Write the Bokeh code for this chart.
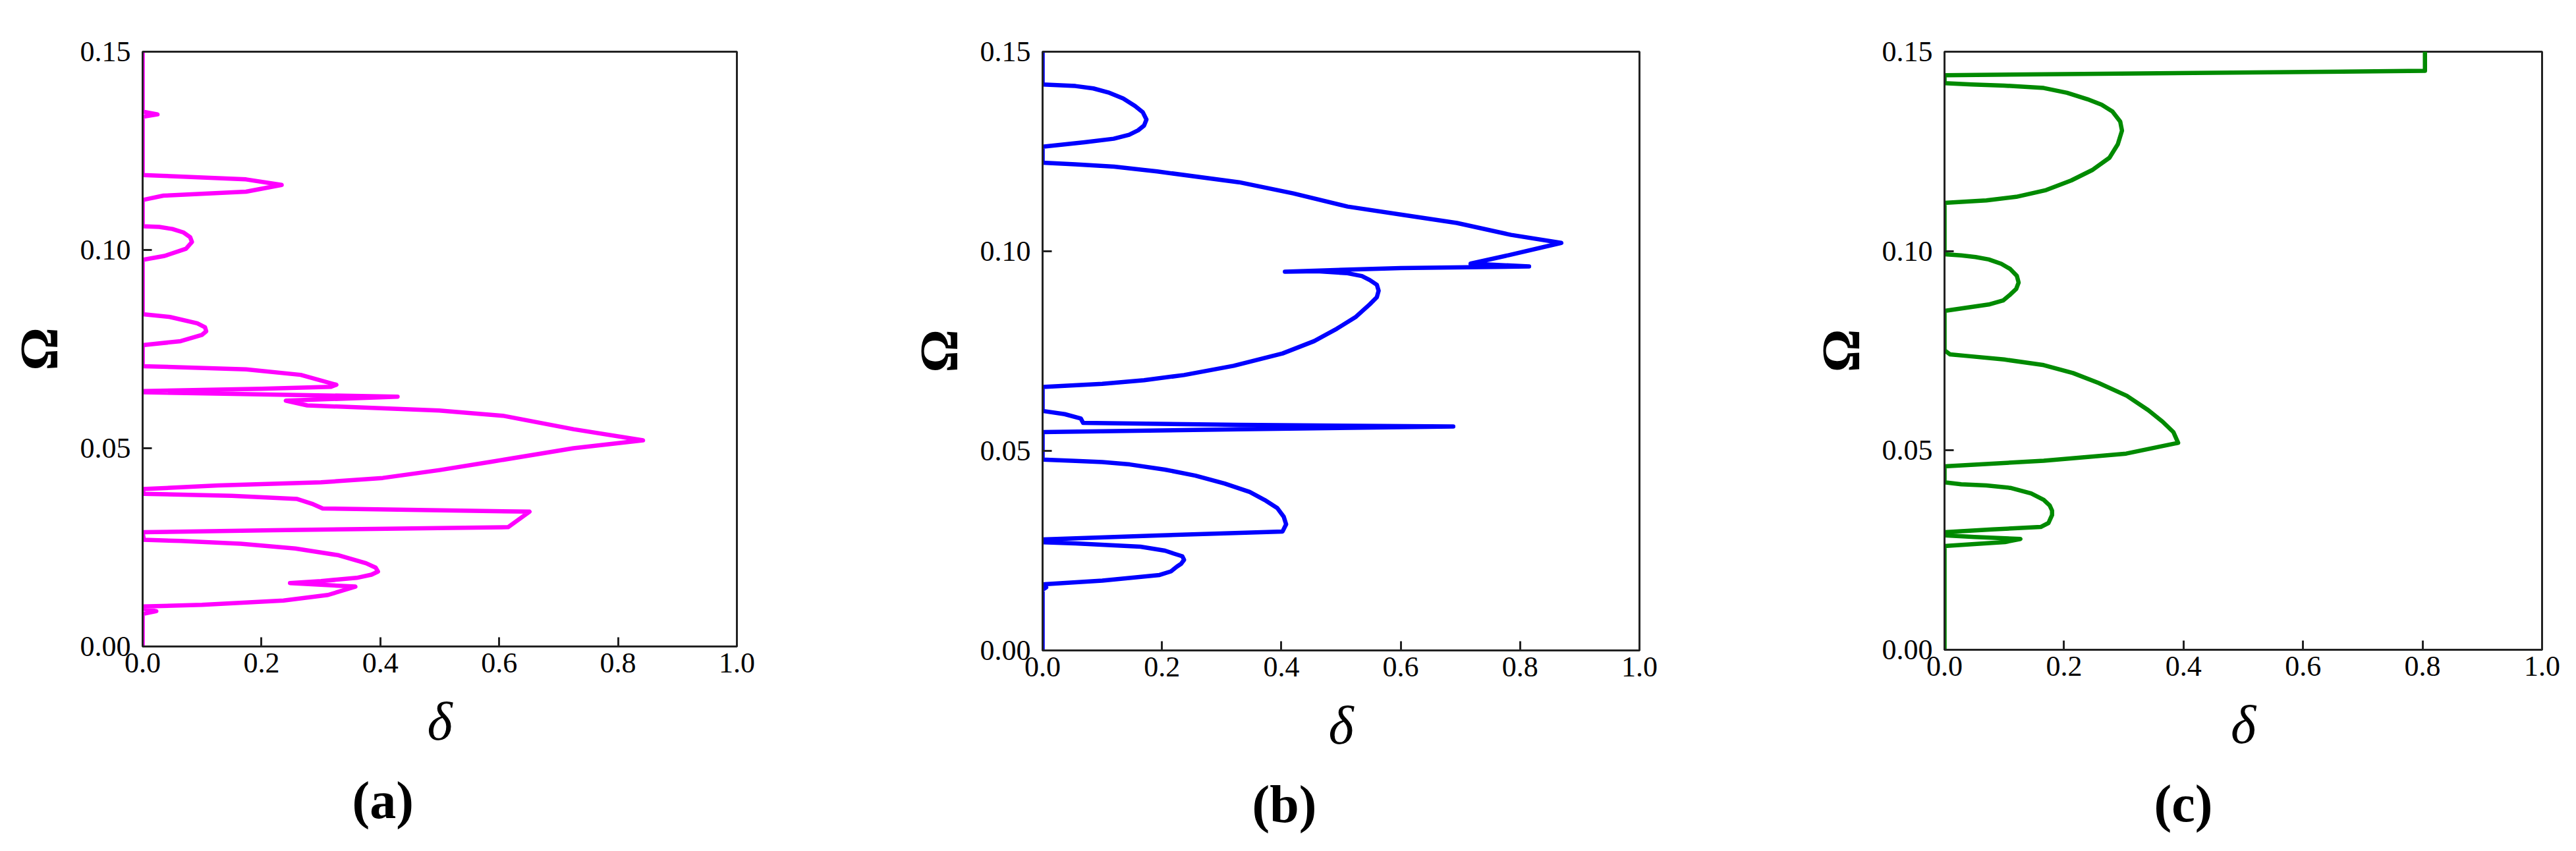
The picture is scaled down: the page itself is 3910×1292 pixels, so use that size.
from bokeh.plotting import figure
from bokeh.layouts import row
from bokeh.models import FixedTicker, PrintfTickFormatter, Title, Range1d
from bokeh.embed import file_html
from bokeh.resources import INLINE

# ---------------- data ----------------
delta_a = [0, 0, 0.023, 0.002, 0, 0.10, 0.237, 0.312, 0.358, 0.248, 0.30, 0.36, 0.385, 0.396,
           0.392, 0.376, 0.330, 0.257, 0.165, 0.064, 0.002, 0, 0.22, 0.615, 0.651, 0.303, 0.285,
           0.260, 0.15, 0.002, 0, 0.127, 0.30, 0.404, 0.50, 0.587, 0.725, 0.842, 0.725, 0.606,
           0.499, 0.277, 0.241, 0.429, 0.0, 0.0, 0.20, 0.317, 0.326, 0.266, 0.174, 0.0, 0, 0.064,
           0.10, 0.107, 0.105, 0.092, 0.046, 0, 0, 0.037, 0.073, 0.083, 0.080, 0.069, 0.05, 0.028,
           0, 0, 0.035, 0.174, 0.234, 0.174, 0.035, 0, 0, 0.025, 0, 0]
omega_a = [0, 0.0082, 0.0089, 0.0095, 0.0101, 0.0105, 0.0116, 0.0130, 0.0151, 0.0160, 0.0165,
           0.0173, 0.0181, 0.0189, 0.0199, 0.0210, 0.0230, 0.0247, 0.0259, 0.0266, 0.0269, 0.0288,
           0.0293, 0.0301, 0.0340, 0.0348, 0.0360, 0.0372, 0.0380, 0.0385, 0.0397, 0.0406, 0.0414,
           0.0425, 0.0445, 0.0466, 0.0500, 0.0520, 0.0548, 0.0582, 0.0595, 0.0608, 0.0620, 0.0630,
           0.0641, 0.0644, 0.0650, 0.0655, 0.0660, 0.0685, 0.0699, 0.0707, 0.0760, 0.0770, 0.0786,
           0.0795, 0.0805, 0.0815, 0.0831, 0.0838, 0.0975, 0.0985, 0.1003, 0.1020, 0.1032, 0.1044,
           0.1053, 0.1058, 0.1060, 0.1126, 0.1137, 0.1147, 0.1164, 0.1178, 0.1187, 0.1189, 0.1336,
           0.1342, 0.1349, 0.15]

delta_b = [0, 0, 0.006, 0, 0.003, 0.10, 0.196, 0.215, 0.225, 0.232, 0.237, 0.234, 0.219, 0.205,
           0.164, 0.055, 0, 0, 0.192, 0.402, 0.408, 0.404, 0.393, 0.372, 0.347, 0.305, 0.256, 0.205,
           0.146, 0.10, 0.055, 0, 0, 0.329, 0.688, 0.329, 0.068, 0.064, 0.037, 0, 0, 0.10, 0.17,
           0.237, 0.32, 0.402, 0.455, 0.493, 0.525, 0.548, 0.56, 0.563, 0.56, 0.548, 0.535, 0.511,
           0.46, 0.406, 0.60, 0.815, 0.717, 0.78, 0.869, 0.785, 0.694, 0.60, 0.511, 0.42, 0.329,
           0.192, 0.12, 0.055, 0, 0, 0.07, 0.119, 0.145, 0.160, 0.170, 0.174, 0.168, 0.155, 0.135,
           0.110, 0.085, 0.055, 0, 0]
omega_b = [0, 0.0152, 0.0158, 0.0164, 0.0166, 0.0175, 0.0189, 0.0198, 0.0210, 0.0217, 0.0227,
           0.0236, 0.0243, 0.0250, 0.0260, 0.0268, 0.0271, 0.0278, 0.0288, 0.0298, 0.0316, 0.0335,
           0.0357, 0.0377, 0.0397, 0.0418, 0.0438, 0.0453, 0.0466, 0.0472, 0.0475, 0.0478, 0.0547,
           0.0554, 0.0561, 0.0565, 0.0570, 0.0581, 0.0592, 0.0600, 0.0660, 0.0668, 0.0677, 0.0690,
           0.0713, 0.0744, 0.0775, 0.0806, 0.0836, 0.0867, 0.0885, 0.0901, 0.0916, 0.0928, 0.0938,
           0.0945, 0.0950, 0.0949, 0.0958, 0.0962, 0.0969, 0.0990, 0.1021, 0.1041, 0.1071, 0.1092,
           0.1112, 0.1145, 0.1173, 0.1200, 0.1212, 0.1218, 0.1222, 0.1262, 0.1273, 0.1282, 0.1292,
           0.1303, 0.1315, 0.1330, 0.1348, 0.1364, 0.1383, 0.1398, 0.1408, 0.1414, 0.1418, 0.15]

delta_c = [0, 0, 0.05, 0.101, 0.127, 0.05, 0, 0, 0.08, 0.161, 0.174, 0.177, 0.180, 0.180, 0.176,
           0.166, 0.145, 0.11, 0.07, 0.028, 0, 0, 0.166, 0.304, 0.391, 0.383, 0.365, 0.341, 0.305,
           0.258, 0.215, 0.166, 0.10, 0.037, 0.009, 0, 0, 0.074, 0.098, 0.110, 0.120, 0.124, 0.121,
           0.110, 0.095, 0.074, 0.052, 0.028, 0, 0, 0.07, 0.12, 0.17, 0.212, 0.247, 0.276, 0.29,
           0.297, 0.294, 0.281, 0.263, 0.239, 0.205, 0.166, 0.10, 0.046, 0, 0, 0.804, 0.804]
omega_c = [0, 0.0260, 0.0265, 0.0270, 0.0278, 0.0283, 0.0287, 0.0295, 0.0302, 0.0308, 0.0318,
           0.0328, 0.0338, 0.0349, 0.0362, 0.0376, 0.0392, 0.0406, 0.0412, 0.0415, 0.0420, 0.0460,
           0.0474, 0.0492, 0.0519, 0.0546, 0.0572, 0.0601, 0.0637, 0.0669, 0.0694, 0.0714, 0.0728,
           0.0737, 0.0741, 0.0751, 0.0850, 0.0866, 0.0876, 0.0891, 0.0905, 0.0921, 0.0938, 0.0955,
           0.0968, 0.0979, 0.0985, 0.0989, 0.0992, 0.1121, 0.1127, 0.1136, 0.1153, 0.1177, 0.1203,
           0.1234, 0.1268, 0.1302, 0.1325, 0.1350, 0.1367, 0.1381, 0.1397, 0.1409, 0.1415, 0.1418,
           0.1421, 0.1441, 0.1452, 0.15]

x_ticks = [0.0, 0.2, 0.4, 0.6, 0.8, 1.0]
y_ticks = [0.00, 0.05, 0.10, 0.15]
panel_tags = ["(a)", "(b)", "(c)"]
line_colors = ["#FF00FF", "#0000FF", "#008A00"]

FONT = "Liberation Serif"
FRAME_COL = "#222222"


def make_panel(dx, oy, color, tag, fw, fh, left_border, right_border):
    p = figure(frame_width=fw, frame_height=fh,
               x_range=Range1d(0, 1), y_range=Range1d(0, 0.15),
               output_backend="svg", toolbar_location=None,
               min_border_left=left_border, min_border_right=right_border,
               min_border_top=78, min_border_bottom=280,
               background_fill_color="white", border_fill_color="white")
    p.line(dx, oy, line_color=color, line_width=6.5, line_join="round", line_cap="round")
    p.grid.visible = False
    p.outline_line_color = FRAME_COL
    p.outline_line_width = 3

    p.xaxis.ticker = FixedTicker(ticks=x_ticks)
    p.yaxis.ticker = FixedTicker(ticks=y_ticks)
    p.xaxis.formatter = PrintfTickFormatter(format="%.1f")
    p.yaxis.formatter = PrintfTickFormatter(format="%.2f")

    for ax in (p.xaxis, p.yaxis):
        ax.axis_line_color = FRAME_COL
        ax.axis_line_width = 3
        ax.major_tick_line_color = FRAME_COL
        ax.major_tick_line_width = 3
        ax.major_tick_in = 14
        ax.major_tick_out = 0
        ax.minor_tick_line_color = None
        ax.major_label_text_font = FONT
        ax.major_label_text_font_size = "44px"
        ax.major_label_text_color = "black"
        ax.axis_label_text_font = FONT
        ax.axis_label_text_font_size = "82px"
        ax.axis_label_text_color = "black"

    p.xaxis.major_label_standoff = 10
    p.yaxis.major_label_standoff = 18
    p.xaxis.axis_label = "δ"
    p.xaxis.axis_label_text_font_style = "italic"
    p.xaxis.axis_label_standoff = 26
    p.yaxis.axis_label = "Ω"
    p.yaxis.axis_label_text_font_style = "bold"
    p.yaxis.axis_label_standoff = 14

    p.add_layout(Title(text=tag, align="left", offset=318, text_font=FONT,
                       text_font_size="80px", text_font_style="bold",
                       text_color="black", standoff=51), "below")
    return p


pa = make_panel(delta_a, omega_a, line_colors[0], panel_tags[0], 902, 903, 216, 256)
pb = make_panel(delta_b, omega_b, line_colors[1], panel_tags[1], 906, 909, 208, 255)
pc = make_panel(delta_c, omega_c, line_colors[2], panel_tags[2], 907, 908, 208, 44)

layout = row(pa, pb, pc)
open("out.html", "w").write(file_html(layout, INLINE))
